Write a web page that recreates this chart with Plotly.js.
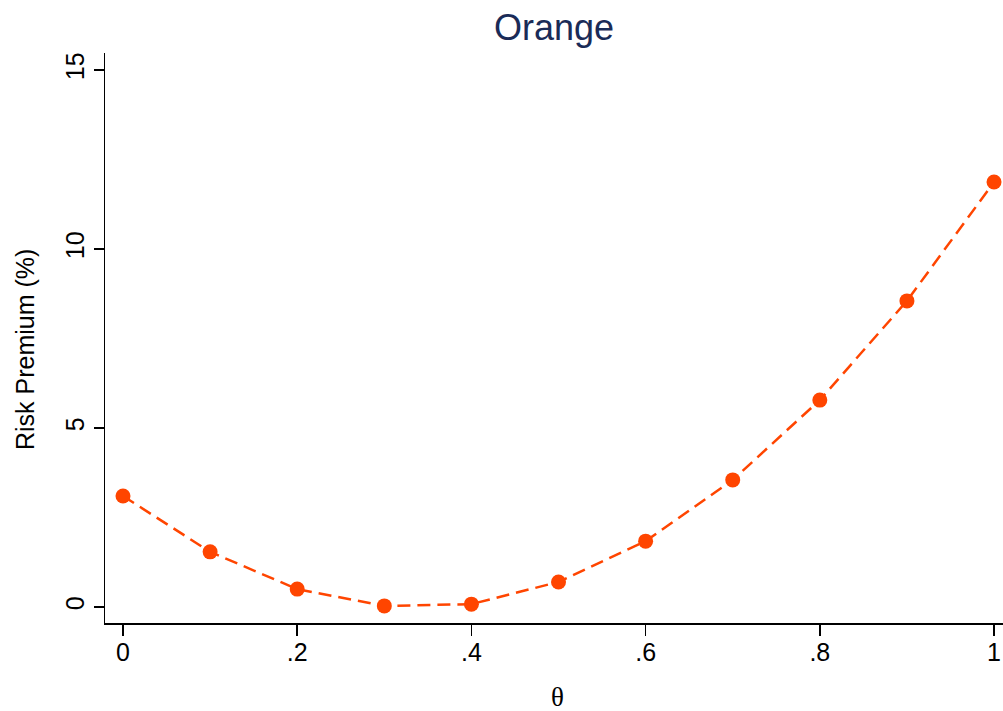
<!DOCTYPE html>
<html><head><meta charset="utf-8">
<script src="https://cdn.plot.ly/plotly-3.0.1.min.js"></script>
<style>html,body{margin:0;padding:0;background:#fff;}#chart{width:1003px;height:711px;}</style>
</head><body><div id="chart"></div>
<script>
const theta = [0, 0.1, 0.2, 0.3, 0.4, 0.5, 0.6, 0.7, 0.8, 0.9, 1.0];
const riskPremium = [3.10, 1.54, 0.50, 0.03, 0.08, 0.70, 1.84, 3.55, 5.78, 8.55, 11.87];
const xTickVals = [0, 0.2, 0.4, 0.6, 0.8, 1];
const xTickText = ["0", ".2", ".4", ".6", ".8", "1"];
const yTickVals = [0, 5, 10, 15];
const yTickText = ["0", "5", "10", "15"];

const trace = {
  x: theta, y: riskPremium, type: 'scatter', mode: 'lines+markers',
  line: {color: '#ff4500', width: 2.5, dash: '13px,7px'},
  marker: {color: '#ff4500', size: 15},
  showlegend: false, cliponaxis: false
};
const font = {family: 'Liberation Sans, Arial, sans-serif', color: '#000'};
const layout = {
  width: 1003, height: 711,
  margin: {l: 105, r: 0, t: 53, b: 88},
  paper_bgcolor: '#fff', plot_bgcolor: '#fff',
  title: {text: 'Orange', x: 0.5, xref: 'paper', y: 0.962, yanchor: 'middle',
          font: {family: 'Liberation Sans, Arial, sans-serif', size: 36, color: '#1a2b57'}},
  xaxis: {
    range: [-0.02067, 1.0103], tickvals: xTickVals, ticktext: xTickText,
    showgrid: false, zeroline: false, showline: true, linecolor: '#000', linewidth: 1.5,
    ticks: 'outside', ticklen: 11, tickwidth: 1.5, tickcolor: '#000', ticklabelstandoff: -5,
    tickfont: Object.assign({size: 25}, font)
  },
  yaxis: {
    range: [-0.447, 15.475], tickvals: yTickVals, ticktext: yTickText, tickangle: -90,
    showgrid: false, zeroline: false, showline: true, linecolor: '#000', linewidth: 1.5,
    ticks: 'outside', ticklen: 10, tickwidth: 1.5, tickcolor: '#000',
    tickfont: Object.assign({size: 25}, font)
  },
  annotations: [
    {text: 'θ', xref: 'paper', yref: 'paper', x: 0.504, y: -0.1298, xanchor: 'center', yanchor: 'middle',
     showarrow: false, font: {family: 'Liberation Serif, Times New Roman, serif', size: 27, color: '#000'}},
    {text: 'Risk Premium (%)', xref: 'paper', yref: 'paper', x: -0.0891, y: 0.4807, xanchor: 'center', yanchor: 'middle',
     textangle: -90, showarrow: false, font: Object.assign({size: 25}, font)}
  ]
};
Plotly.newPlot('chart', [trace], layout, {displayModeBar: false, staticPlot: true});
</script></body></html>
